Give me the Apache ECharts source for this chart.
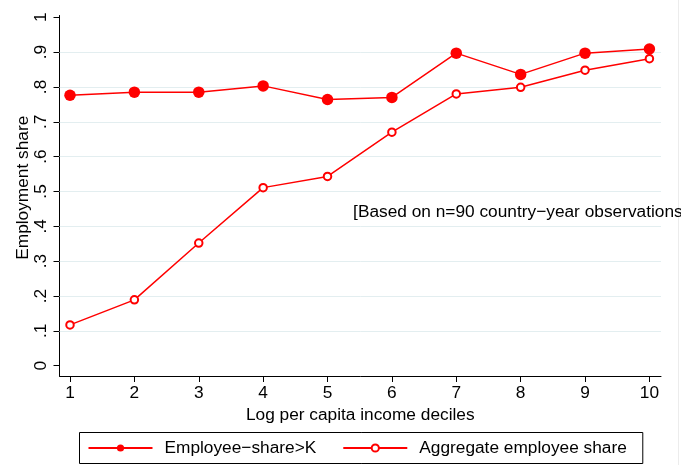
<!DOCTYPE html>
<html>
<head>
<meta charset="utf-8">
<script src="https://cdn.jsdelivr.net/npm/echarts@6/dist/echarts.min.js"></script>
<style>
html,body{margin:0;padding:0;background:#fff;}
#chart{width:681px;height:465px;}
</style>
</head>
<body>
<div id="chart"></div>
<script>
const categories = [1, 2, 3, 4, 5, 6, 7, 8, 9, 10];
const employeeShareK = [0.776, 0.785, 0.785, 0.803, 0.764, 0.770, 0.897, 0.836, 0.897, 0.909];
const aggregateShare = [0.117, 0.189, 0.352, 0.511, 0.543, 0.670, 0.780, 0.799, 0.848, 0.881];
const yTicks = [0, 0.1, 0.2, 0.3, 0.4, 0.5, 0.6, 0.7, 0.8, 0.9, 1];
const yTickLabels = ['0', '.1', '.2', '.3', '.4', '.5', '.6', '.7', '.8', '.9', '1'];
const gridValues = [0.1, 0.2, 0.3, 0.4, 0.5, 0.6, 0.7, 0.8, 0.9];
const seriesNames = ['Employee\u2212share>K', 'Aggregate employee share'];
const noteText = '[Based on n=90 country\u2212year observations';
const notePos = [5.39, 0.441];

const FONT = 'Liberation Sans, Arial, Helvetica, sans-serif';
const RED = '#ff0000';
const FS = 17.3;

const chart = echarts.init(document.getElementById('chart'), null, {renderer: 'canvas'});
const option = {
  backgroundColor: '#ffffff',
  animation: false,
  textStyle: {fontFamily: FONT, color: '#000'},
  grid: {left: 59.5, right: 20, top: 15.5, bottom: 89, containLabel: false, outerBoundsMode: 'none'},
  graphic: [{
    type: 'line', silent: true,
    shape: {x1: 678.5, y1: 0, x2: 678.5, y2: 465},
    style: {stroke: '#ececec', lineWidth: 1}
  }],
  xAxis: {
    type: 'value',
    min: 0.837, max: 10.18,
    name: 'Log per capita income deciles',
    nameLocation: 'middle', nameGap: 27,
    nameTextStyle: {fontSize: FS, color: '#000', fontFamily: FONT},
    axisLine: {show: true, onZero: false, lineStyle: {color: '#000', width: 1}},
    axisTick: {show: true, length: 6, customValues: categories, lineStyle: {color: '#000'}},
    axisLabel: {customValues: categories, margin: 9, fontSize: FS, color: '#000', fontFamily: FONT},
    splitLine: {show: false}
  },
  yAxis: {
    type: 'value',
    min: -0.0296, max: 1.005,
    name: 'Employment share',
    nameLocation: 'middle', nameGap: 28, nameRotate: 90,
    nameMoveOverlap: false,
    nameTextStyle: {fontSize: FS, color: '#000', fontFamily: FONT, padding: [0, 0, 0, 16]},
    axisLine: {show: true, onZero: false, lineStyle: {color: '#000', width: 1}},
    axisTick: {show: true, length: 6, customValues: yTicks, lineStyle: {color: '#000'}},
    axisLabel: {
      customValues: yTicks, rotate: 90, margin: 10, fontSize: FS, color: '#000', fontFamily: FONT,
      formatter: function (v) {
        const i = yTicks.findIndex(t => Math.abs(t - v) < 1e-6);
        return i >= 0 ? yTickLabels[i] : '';
      }
    },
    splitLine: {show: false}
  },
  legend: {
    data: seriesNames,
    left: 79.5, top: 432.5,
    orient: 'horizontal',
    itemWidth: 64, itemHeight: 9, itemGap: 26,
    padding: [7, 16, 7, 8],
    borderColor: '#000', borderWidth: 1,
    textStyle: {fontSize: FS, color: '#000', fontFamily: FONT, padding: [0, 0, 0, 7]}
  },
  series: [
    {
      name: 'grid',
      type: 'line',
      data: [],
      z: 0,
      silent: true,
      markLine: {
        silent: true,
        symbol: ['none', 'none'],
        label: {show: false},
        lineStyle: {color: '#e3eef0', width: 1, type: 'solid'},
        data: gridValues.map(v => ({yAxis: v}))
      }
    },
    {
      name: seriesNames[0],
      type: 'line',
      zlevel: 1,
      data: categories.map((c, i) => [c, employeeShareK[i]]),
      symbol: 'circle', symbolSize: 11.5,
      lineStyle: {color: RED, width: 1.5},
      itemStyle: {color: RED},
      z: 3
    },
    {
      name: seriesNames[1],
      type: 'line',
      zlevel: 1,
      data: categories.map((c, i) => [c, aggregateShare[i]]),
      symbol: 'emptyCircle', symbolSize: 7.5,
      lineStyle: {color: RED, width: 1.5},
      itemStyle: {color: RED, borderColor: RED, borderWidth: 3.2},
      z: 3,
      markPoint: {
        silent: true,
        symbol: 'circle', symbolSize: 1,
        itemStyle: {color: 'rgba(0,0,0,0)'},
        label: {show: true, position: 'right', distance: 0, fontSize: FS, color: '#000', fontFamily: FONT, formatter: noteText},
        data: [{coord: notePos}]
      }
    }
  ]
};
chart.setOption(option);
</script>
</body>
</html>
